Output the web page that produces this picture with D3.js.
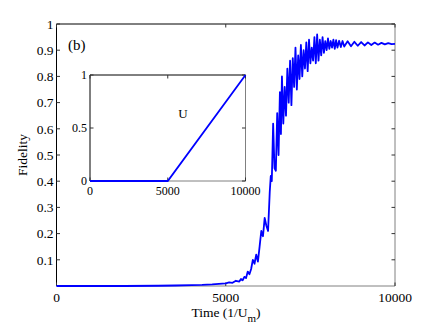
<!DOCTYPE html>
<html><head><meta charset="utf-8">
<script src="https://cdn.jsdelivr.net/npm/d3@7"></script>
<style>body{margin:0;background:#fff}svg{display:block}text{font-family:"Liberation Serif","DejaVu Serif",serif}</style>
</head><body>
<script>
// Main series: fidelity vs time (1/U_m)
const time = [0,1000,2000,3000,3500,4000,4300,4600,4800,5000,5100,5200,5300,5400,5450,5500,5550,5600,5650,5700,5750,5800,5850,5900,5950,6000,6050,6100,6150,6200,6250,6300,6330,6360,6400,6440,6480,6520,6560,6600,6630,6660,6700,6740,6780,6820,6860,6900,6940,6980,7020,7060,7100,7140,7180,7220,7260,7300,7340,7380,7420,7460,7500,7540,7580,7620,7660,7700,7740,7780,7820,7860,7900,7940,7980,8020,8060,8100,8140,8180,8220,8260,8300,8350,8400,8450,8500,8600,8700,8800,8900,9000,9100,9200,9300,9400,9500,9600,9700,9800,9900,10000];
const fidelity = [0,0,0,0.001,0.002,0.003,0.004,0.006,0.008,0.01,0.014,0.012,0.02,0.017,0.027,0.022,0.035,0.03,0.055,0.045,0.065,0.1,0.085,0.12,0.093,0.15,0.21,0.19,0.26,0.23,0.21,0.36,0.42,0.40,0.62,0.45,0.44,0.66,0.50,0.74,0.58,0.80,0.62,0.76,0.65,0.83,0.70,0.86,0.69,0.87,0.76,0.91,0.75,0.88,0.79,0.92,0.80,0.90,0.83,0.93,0.82,0.94,0.85,0.91,0.86,0.95,0.85,0.96,0.86,0.94,0.88,0.95,0.89,0.935,0.90,0.945,0.905,0.935,0.91,0.94,0.905,0.938,0.91,0.936,0.912,0.935,0.914,0.934,0.915,0.932,0.917,0.931,0.918,0.930,0.920,0.929,0.921,0.928,0.922,0.927,0.923,0.924];
const xTicks = [0,5000,10000];
const yTicks = [0.1,0.2,0.3,0.4,0.5,0.6,0.7,0.8,0.9,1];
// Inset series: U vs time
const insetTime = [0,5000,10000];
const insetU = [0,0,1];
const insetXTicks = [0,5000,10000];
const insetYTicks = [0,0.5,1];

const W=436,H=328;
const svg=d3.select("body").append("svg").attr("width",W).attr("height",H);
const m={l:56.5,r:395,t:24,b:286};
const x=d3.scaleLinear().domain([0,10000]).range([m.l,m.r]);
const y=d3.scaleLinear().domain([0,1]).range([m.b,m.t]);
const blue="#0000ff";

function frame(g,xs,ys,xt,yt,fs,fmtY,xLab0,yLab0){
  const [x0,x1]=xs.range(), [y0,y1]=ys.range();
  g.append("line").attr("x1",x0).attr("x2",x1).attr("y1",y1).attr("y2",y1).attr("stroke","#000");
  g.append("line").attr("x1",x0).attr("x2",x0).attr("y1",y0).attr("y2",y1).attr("stroke","#000");
  g.append("line").attr("x1",x1).attr("x2",x1).attr("y1",y0).attr("y2",y1).attr("stroke","#808080");
  g.append("line").attr("x1",x0).attr("x2",x1).attr("y1",y0).attr("y2",y0).attr("stroke","#808080");
  const tl=3.5;
  xt.forEach(v=>{
    const px=xs(v);
    g.append("line").attr("x1",px).attr("x2",px).attr("y1",y0).attr("y2",y0-tl).attr("stroke","#333");
    g.append("line").attr("x1",px).attr("x2",px).attr("y1",y1).attr("y2",y1+tl).attr("stroke","#333");
    g.append("text").attr("x",px).attr("y",y0+xLab0).attr("text-anchor","middle").attr("font-size",fs).text(v);
  });
  yt.forEach(v=>{
    const py=ys(v);
    g.append("line").attr("x1",x0).attr("x2",x0+tl).attr("y1",py).attr("y2",py).attr("stroke","#333");
    g.append("line").attr("x1",x1).attr("x2",x1-tl).attr("y1",py).attr("y2",py).attr("stroke","#333");
    g.append("text").attr("x",x0-yLab0).attr("y",py).attr("dy","0.35em").attr("text-anchor","end").attr("font-size",fs).text(fmtY(v));
  });
}

const main=svg.append("g");
frame(main,x,y,xTicks,yTicks,13.5,v=>String(v),16,3);

const line=d3.line().x((d,i)=>x(time[i])).y(d=>y(d));
main.append("path").datum(fidelity).attr("d",line).attr("fill","none").attr("stroke",blue).attr("stroke-width",1.8).attr("stroke-linejoin","round");

main.append("text").attr("x",68).attr("y",50).attr("font-size",15).text("(b)");
main.append("text").attr("transform","translate(27,155) rotate(-90)").attr("text-anchor","middle").attr("font-size",13.5).text("Fidelity");
const tl=main.append("text").attr("x",226).attr("y",317).attr("text-anchor","middle").attr("font-size",13.5);
tl.append("tspan").text("Time (1/U");
tl.append("tspan").attr("dy",5).attr("font-size",11).text("m");
tl.append("tspan").attr("dy",-5).text(")");

// inset
const xi=d3.scaleLinear().domain([0,10000]).range([90,245.5]);
const yi=d3.scaleLinear().domain([0,1]).range([181,75]);
const inset=svg.append("g");
inset.append("rect").attr("x",90).attr("y",75).attr("width",155.5).attr("height",106).attr("fill","#fff");
frame(inset,xi,yi,insetXTicks,insetYTicks,12,v=>String(v),14,3);
const iline=d3.line().x((d,i)=>xi(insetTime[i])).y(d=>yi(d));
inset.append("path").datum(insetU).attr("d",iline).attr("fill","none").attr("stroke",blue).attr("stroke-width",1.8);
inset.append("text").attr("x",183).attr("y",118).attr("text-anchor","middle").attr("font-size",13).text("U");
</script>
</body></html>
